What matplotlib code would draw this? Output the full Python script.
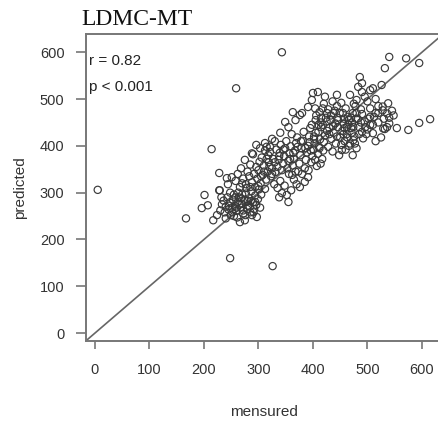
import matplotlib
matplotlib.use("Agg")
import matplotlib.pyplot as plt

pts = [
    # outliers
    (5,306),(343,600),(259,523),(248,160),(326,143),(167,245),(214,393),(532,566),(540,590),
    (571,587),(595,577),(554,438),(575,434),(595,449),(615,457),(532,436),(473,380),
    # lower-left cluster
    (196,267),(201,295),(207,273),(217,241),(224,252),(228,305),(230,262),(233,275),(236,283),
    (238,258),(240,270),(243,290),(245,264),(247,279),(249,252),(251,268),(253,285),(255,296),
    (257,272),(259,261),(261,247),(262,280),(264,290),(266,237),(268,268),(270,276),(272,255),
    (274,285),(275,241),(277,298),(279,265),(281,272),(283,288),(285,258),(287,303),(288,252),
    (290,279),(292,265),(294,294),(296,274),(297,248),(299,286),(301,307),(303,268),(305,296),
    (240,245),(255,250),(263,300),(278,310),(232,290),(248,300),(270,296),(286,282),
    (252,258),(258,290),(265,275),(272,262),(280,282),(246,272),(268,288),(291,258),(284,270),
    (260,268),(276,252),(294,280),
    # middle-left band
    (228,342),(229,305),(242,331),(251,333),(244,318),(258,325),(262,340),(266,312),(268,352),
    (272,330),(275,370),(277,318),(280,345),(283,335),(285,360),(288,322),(290,382),(292,340),
    (294,312),(296,355),(298,330),(300,348),(302,366),(304,320),(306,375),(308,338),(310,358),
    (312,390),(314,328),(315,398),(317,345),(319,365),(321,387),(323,335),(325,352),(327,372),
    (329,318),(331,344),(285,312),(300,314),(270,320),(312,308),(318,380),(333,392),
    (310,345),(320,355),(330,365),(305,335),(315,372),(325,340),
    # below the line
    (343,299),(352,295),(355,280),(376,312),(385,323),(391,333),(335,310),(340,325),(348,315),
    (360,305),(365,328),(370,318),(338,290),(362,338),(380,340),
    # middle band
    (335,355),(337,370),(339,385),(341,402),(343,348),(345,362),(347,378),(349,395),(351,410),
    (353,352),(355,368),(357,384),(359,399),(361,425),(363,358),(365,372),(367,390),(369,406),
    (371,418),(373,345),(375,362),(377,380),(379,395),(381,411),(383,430),(385,352),(387,370),
    (389,386),(391,400),(393,420),(395,438),(397,365),(399,378),(401,392),(403,405),(405,428),
    (407,357),(409,383),(411,398),(413,414),(415,440),(417,372),(419,390),(356,340),(368,345),
    (392,348),(404,370),(414,362),
    (338,378),(346,392),(358,372),(364,385),(372,398),(378,410),(386,395),(394,408),(402,415),
    (396,390),
    # above the cloud
    (349,451),(363,472),(376,466),(380,470),(391,483),(330,410),(340,428),(355,440),(368,455),
    (303,395),(312,406),(321,398),(288,384),(296,402),(325,415),
    # dense upper cluster
    (400,513),(409,515),(422,505),(444,509),(398,498),(404,480),(412,472),(420,490),(428,478),
    (436,495),(444,485),(452,492),(460,480),(468,509),(415,460),(425,452),(433,465),(441,448),
    (449,470),(457,458),(465,445),(473,470),(479,458),(405,455),(418,445),(430,438),(438,428),
    (446,440),(454,432),(462,425),(470,438),(476,420),(410,430),(422,422),(434,415),(442,405),
    (450,418),(458,410),(466,400),(474,412),(480,395),(420,408),(428,398),(436,388),(453,391),
    (448,380),(460,392),(468,405),(398,445),(406,465),(414,450),(426,470),(440,475),(456,447),
    (464,462),(472,450),(478,485),(432,455),(445,460),(418,480),(402,420),(412,395),(426,432),
    (452,402),(463,418),(471,428),(455,470),(437,442),
    (410,445),(424,460),(438,470),(446,455),(458,438),(466,455),(474,440),(430,425),(444,420),
    (456,425),(462,440),(470,460),
    # top-right group
    (486,547),(490,534),(483,526),(510,523),(526,530),(505,519),(538,491),(528,476),(536,469),
    (528,484),(495,505),(480,498),(500,495),(515,500),(490,515),(475,490),(520,485),(488,478),
    # right group
    (477,405),(492,416),(510,427),(529,437),(536,440),(485,440),(495,452),(505,462),(515,470),
    (520,450),(530,458),(540,460),(545,475),(500,435),(490,468),(482,458),(510,445),(525,418),
    (498,425),(515,410),(540,448),(548,465),(505,480),(485,425),
    (480,470),(488,450),(496,440),(502,458),(512,462),(520,470),(490,430),(505,445),
]
mensured = [p[0] for p in pts]
predicted = [p[1] for p in pts]

xticks = [0, 100, 200, 300, 400, 500, 600]
yticks = [0, 100, 200, 300, 400, 500, 600]
title = "LDMC-MT"
stats = ["r = 0.82", "p < 0.001"]

plt.rcParams['font.family'] = ['Liberation Sans', 'DejaVu Sans']
W, H = 439, 423
fig = plt.figure(figsize=(W/100, H/100), dpi=100)
L, R, T, B = 86, 441, 34, 341
ax = fig.add_axes([L/W, 1 - B/H, (R-L)/W, (B-T)/H])
ax.set_xlim(-16.5, 635)
ax.set_ylim(-17, 639)

ax.axline((0, 0), slope=1, color='#666666', lw=1.2, zorder=1)
ax.scatter(mensured, predicted, s=27, facecolors='none', edgecolors='#3a3a3a',
           linewidths=0.85, zorder=2)

for s in ['left', 'bottom', 'top']:
    ax.spines[s].set_color('#777777')
    ax.spines[s].set_linewidth(1.4)
ax.spines['right'].set_visible(False)

ax.set_xticks(xticks)
ax.set_yticks(yticks)
ax.tick_params(axis='y', length=7.5, width=1.2, color='#777777', pad=8,
               labelsize=10.5, labelcolor='#333333')
ax.tick_params(axis='x', length=6, width=1.2, color='#777777', pad=10,
               labelsize=10.5, labelcolor='#333333')

ax.set_xlabel('mensured', fontsize=11, color='#333333', labelpad=20)
ax.set_ylabel('predicted', fontsize=11, color='#333333', labelpad=9)

fig.text(81/W, 1 - 25/H, title, family='Liberation Serif', fontsize=17,
         ha='left', va='baseline', color='#111111')
ax.text(0.008, 0.912, stats[0], transform=ax.transAxes, fontsize=11,
        color='#222222', ha='left', va='center')
ax.text(0.008, 0.826, stats[1], transform=ax.transAxes, fontsize=11,
        color='#222222', ha='left', va='center')

fig.savefig('out.png', dpi=100)
